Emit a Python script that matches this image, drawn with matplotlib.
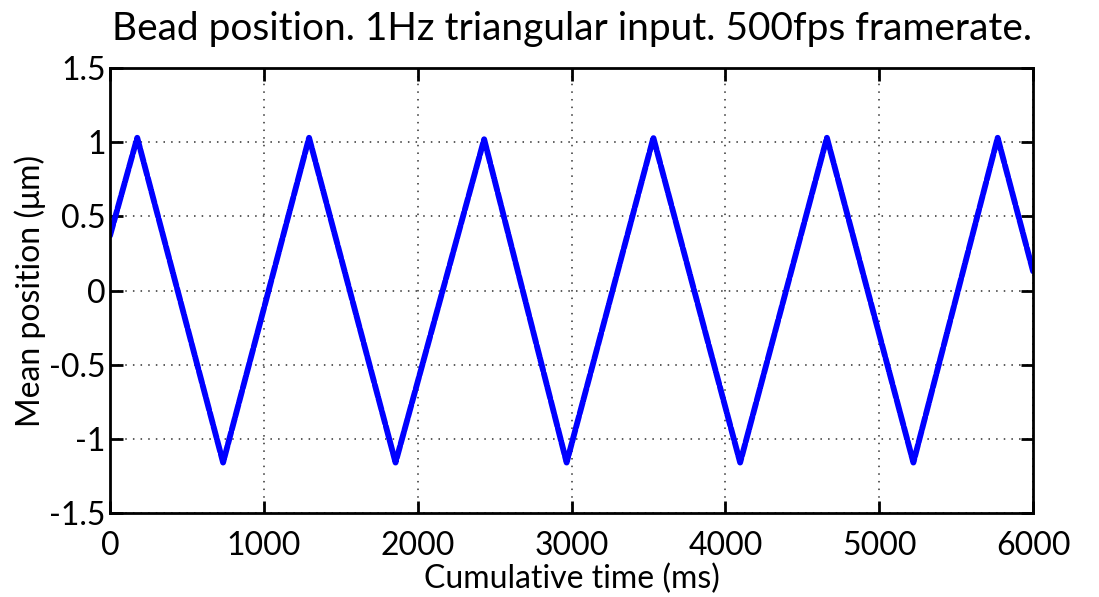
import matplotlib
matplotlib.use('Agg')
import matplotlib.pyplot as plt

time_ms = [0, 177, 735, 1294, 1856, 2432, 2968, 3532, 4096, 4660, 5222, 5770, 6000]
position_um = [0.37, 1.03, -1.16, 1.03, -1.16, 1.02, -1.16, 1.03, -1.16, 1.03, -1.16, 1.03, 0.13]

x_ticks = [0, 1000, 2000, 3000, 4000, 5000, 6000]
y_ticks = [-1.5, -1, -0.5, 0, 0.5, 1, 1.5]
y_tick_labels = ['-1.5', '-1', '-0.5', '0', '0.5', '1', '1.5']

plt.rcParams['font.family'] = ['Lato', 'DejaVu Sans']

fig = plt.figure(figsize=(10.99, 5.97), dpi=100)
ax = fig.add_axes([0.1001, 0.1407, 0.8399, 0.7453])

ax.plot(time_ms, position_um, color='#0000ff', linewidth=4.2,
        linestyle=(0, (2.0, 0.45)), solid_capstyle='round', dash_capstyle='round')

ax.set_xlim(0, 6000)
ax.set_ylim(-1.5, 1.5)
ax.set_xticks(x_ticks)
ax.set_yticks(y_ticks)
ax.set_yticklabels(y_tick_labels)
ax.grid(True, linestyle=(0, (1, 4)), color='#303030', linewidth=1.1)
ax.tick_params(direction='in', length=9, width=2, top=True, right=True,
               labelsize=23)
ax.tick_params(axis='x', pad=13)
ax.tick_params(axis='y', pad=3)
for s in ax.spines.values():
    s.set_linewidth(2)

ax.set_title('Bead position. 1Hz triangular input. 500fps framerate.', fontsize=28, pad=20)
ax.set_xlabel('Cumulative time (ms)', fontsize=23, labelpad=2)
ax.set_ylabel('Mean position (\u03bcm)', fontsize=23, labelpad=2)

fig.savefig('out.png', dpi=100)
